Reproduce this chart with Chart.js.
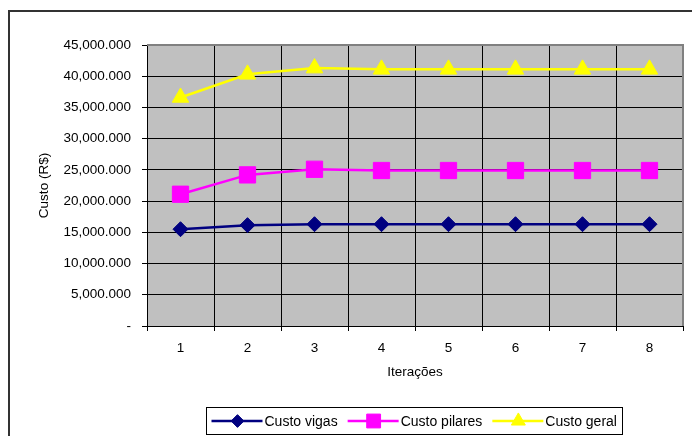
<!DOCTYPE html>
<html>
<head>
<meta charset="utf-8">
<script src="https://cdn.jsdelivr.net/npm/chart.js@4.4.1/dist/chart.umd.min.js"></script>
<style>
  html, body { margin: 0; padding: 0; background: #fff; }
  #wrap { width: 692px; height: 436px; }
</style>
</head>
<body>
<div id="wrap"><canvas id="chart" width="692" height="436"></canvas></div>
<script>
const iteracoes = ['1', '2', '3', '4', '5', '6', '7', '8'];
const custoVigas = [15500000, 16150000, 16300000, 16300000, 16300000, 16300000, 16300000, 16300000];
const custoPilares = [21100000, 24200000, 25100000, 24900000, 24900000, 24900000, 24900000, 24900000];
const custoGeral = [36600000, 40300000, 41300000, 41100000, 41100000, 41100000, 41100000, 41100000];
const yMax = 45000000;
const yStep = 5000000;

const FONT = '"Liberation Sans", Arial, sans-serif';

// 45,000.000 style (as in the original spreadsheet)
function fmt(v) {
    if (v === 0) return '-';
    const s = String(Math.round(v));
    const groups = [];
    for (let i = s.length; i > 0; i -= 3) groups.unshift(s.slice(Math.max(0, i - 3), i));
    const last = groups.pop();
    return groups.join(',') + '.' + last;
}

const series = [
    { label: 'Custo vigas', data: custoVigas, color: '#000080', style: 'rectRot', radius: 7.5 },
    { label: 'Custo pilares', data: custoPilares, color: '#ff00ff', style: 'rect', radius: 11.5 },
    { label: 'Custo geral', data: custoGeral, color: '#ffff00', style: 'triangle', radius: 9.5 }
];

const framePlugin = {
    id: 'frame',
    beforeDraw(chart) {
        const { ctx, chartArea: a } = chart;
        ctx.save();
        ctx.fillStyle = '#c0c0c0';
        ctx.fillRect(a.left, a.top, a.right - a.left, a.bottom - a.top);
        ctx.strokeStyle = '#333';
        ctx.lineWidth = 2;
        ctx.beginPath();
        ctx.moveTo(9, 440);
        ctx.lineTo(9, 11);
        ctx.lineTo(700, 11);
        ctx.stroke();
        ctx.restore();
    },
    beforeDatasetsDraw(chart) {
        const { ctx, chartArea: a } = chart;
        ctx.save();
        ctx.strokeStyle = '#808080';
        ctx.lineWidth = 2;
        ctx.beginPath();
        ctx.moveTo(a.left, a.top);
        ctx.lineTo(a.right, a.top);
        ctx.lineTo(a.right, a.bottom);
        ctx.stroke();
        ctx.restore();
    },
    afterDraw(chart) {
        const ctx = chart.ctx;
        const box = { x: 206.5, y: 407.5, w: 416, h: 27 };
        ctx.save();
        ctx.fillStyle = '#fff';
        ctx.strokeStyle = '#000';
        ctx.lineWidth = 1;
        ctx.fillRect(box.x, box.y, box.w, box.h);
        ctx.strokeRect(box.x, box.y, box.w, box.h);
        ctx.font = '14px ' + FONT;
        ctx.textBaseline = 'middle';
        const cy = box.y + box.h / 2;
        let x = box.x + 5;
        series.forEach(s => {
            ctx.strokeStyle = s.color;
            ctx.lineWidth = 2.5;
            ctx.beginPath();
            ctx.moveTo(x, cy);
            ctx.lineTo(x + 51, cy);
            ctx.stroke();
            ctx.fillStyle = s.color;
            ctx.lineWidth = 1;
            Chart.helpers.drawPoint(ctx, { pointStyle: s.style, radius: s.radius * 0.85, rotation: 0, borderWidth: 1 }, x + 26, cy);
            ctx.fillStyle = '#000';
            ctx.fillText(s.label, x + 53, cy + 1);
            x += 53 + ctx.measureText(s.label).width + 10;
        });
        ctx.restore();
    }
};

new Chart(document.getElementById('chart'), {
    type: 'line',
    data: {
        labels: iteracoes,
        datasets: series.map(s => ({
            label: s.label,
            data: s.data,
            borderColor: s.color,
            backgroundColor: s.color,
            borderWidth: 2.5,
            tension: 0,
            pointStyle: s.style,
            pointRadius: s.radius,
            pointBorderWidth: 1,
            pointBackgroundColor: s.color,
            pointBorderColor: s.color
        }))
    },
    options: {
        responsive: false,
        animation: false,
        devicePixelRatio: 1,
        layout: { autoPadding: false, padding: { left: 32, top: 45, right: 9, bottom: 52 } },
        plugins: {
            legend: { display: false },
            tooltip: { enabled: false }
        },
        scales: {
            x: {
                offset: true,
                grid: { offset: true, color: '#000', lineWidth: 1, tickLength: 5 },
                border: { color: '#000', width: 1 },
                ticks: { color: '#000', padding: 9, font: { family: FONT, size: 13.5 } },
                title: { display: true, text: 'Iterações', color: '#000', font: { family: FONT, size: 13.5 } },
                afterFit(scale) { scale.height = 58; }
            },
            y: {
                min: 0,
                max: yMax,
                ticks: {
                    stepSize: yStep,
                    color: '#000',
                    padding: 11,
                    font: { family: FONT, size: 13.5 },
                    callback: v => fmt(v)
                },
                grid: { color: '#000', lineWidth: 1, tickLength: 5 },
                border: { color: '#000', width: 1 },
                title: { display: true, text: 'Custo (R$)', color: '#000', font: { family: FONT, size: 13.5 } },
                afterFit(scale) { scale.width = 115; }
            }
        }
    },
    plugins: [framePlugin]
});
</script>
</body>
</html>
